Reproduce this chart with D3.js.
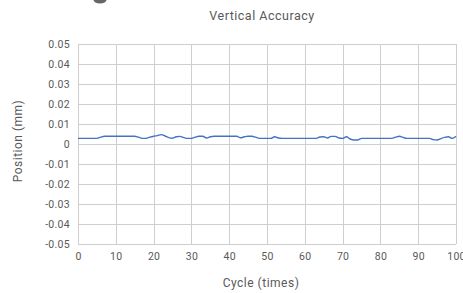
<!DOCTYPE html>
<html><head><meta charset="utf-8">
<script src="https://cdn.jsdelivr.net/npm/d3@7/dist/d3.min.js"></script>
<style>body{margin:0;background:#fff;}svg{display:block;}text{font-family:Roboto,"DejaVu Sans",sans-serif;fill:#595959;}</style>
</head><body>
<svg id="c" width="463" height="293"></svg>
<script>
const title = "Vertical Accuracy";
const xTitle = "Cycle (times)";
const yTitle = "Position (mm)";
const xTicks = [0,10,20,30,40,50,60,70,80,90,100];
const yTicks = [-0.05,-0.04,-0.03,-0.02,-0.01,0,0.01,0.02,0.03,0.04,0.05];
const yTickLabels = ["-0.05","-0.04","-0.03","-0.02","-0.01","0","0.01","0.02","0.03","0.04","0.05"];
const cycles = d3.range(0,101);
const positions = [
0.0028,0.0028,0.0028,0.0028,0.0028,0.0028,0.0034,0.0039,0.0039,0.0039,
0.0039,0.0039,0.0039,0.0039,0.0039,0.0039,0.0034,0.0028,0.0028,0.0034,
0.0039,0.0042,0.0047,0.0040,0.0032,0.0029,0.0036,0.0038,0.0032,0.0028,
0.0028,0.0034,0.0039,0.0039,0.0030,0.0036,0.0039,0.0039,0.0039,0.0039,
0.0039,0.0039,0.0039,0.0031,0.0036,0.0039,0.0039,0.0034,0.0028,0.0028,
0.0028,0.0028,0.0036,0.0030,0.0028,0.0028,0.0028,0.0028,0.0028,0.0028,
0.0028,0.0028,0.0028,0.0028,0.0035,0.0036,0.0030,0.0038,0.0038,0.0030,
0.0028,0.0036,0.0025,0.0020,0.0020,0.0028,0.0028,0.0028,0.0028,0.0028,
0.0028,0.0028,0.0028,0.0028,0.0034,0.0039,0.0033,0.0028,0.0028,0.0028,
0.0028,0.0028,0.0028,0.0028,0.0022,0.0020,0.0027,0.0033,0.0036,0.0028,
0.0039];

const svg = d3.select("#c");
const x = d3.scaleLinear().domain([0,100]).range([78,456]);
const y = d3.scaleLinear().domain([-0.05,0.05]).range([244,44]);

// cut-off icon at top
svg.append("ellipse").attr("cx",100).attr("cy",0).attr("rx",6.5).attr("ry",3.5).attr("fill","#666");

const grid = svg.append("g").attr("stroke","#cfcfcf").attr("stroke-width",1).attr("shape-rendering","crispEdges");
grid.selectAll(".v").data(xTicks).enter().append("line")
  .attr("x1",d=>Math.round(x(d))+0.5).attr("x2",d=>Math.round(x(d))+0.5).attr("y1",y(0.05)).attr("y2",y(-0.05));
grid.selectAll(".h").data(yTicks).enter().append("line")
  .attr("x1",x(0)).attr("x2",x(100)).attr("y1",d=>Math.round(y(d))+0.5).attr("y2",d=>Math.round(y(d))+0.5);

const yAxis = d3.axisLeft(y).tickValues(yTicks).tickSize(0).tickPadding(8).tickFormat((d,i)=>yTickLabels[i]);
const ga = svg.append("g").attr("transform",`translate(${x(0)},0)`).call(yAxis);
ga.select(".domain").remove();
ga.selectAll("text").attr("font-size",10.5).style("letter-spacing","0.3px").style("fill","#595959").style("font-family","Roboto,sans-serif");

const xAxis = d3.axisBottom(x).tickValues(xTicks).tickSize(0).tickPadding(9);
const gx = svg.append("g").attr("transform",`translate(0,${y(-0.05)})`).call(xAxis);
gx.select(".domain").remove();
gx.selectAll("text").attr("font-size",10.5).style("letter-spacing","0.3px").style("fill","#595959").style("font-family","Roboto,sans-serif");

const line = d3.line().x((d,i)=>x(cycles[i])).y(d=>y(d)).curve(d3.curveMonotoneX);
svg.append("path").datum(positions).attr("d",line).attr("fill","none").attr("stroke","#4472C4").attr("stroke-width",1.4);

svg.append("text").attr("x",262).attr("y",20).attr("text-anchor","middle").attr("font-size",12.5).style("letter-spacing","0.5px").text(title);
svg.append("text").attr("x",261).attr("y",287).attr("text-anchor","middle").attr("font-size",12).style("letter-spacing","0.5px").text(xTitle);
svg.append("text").attr("transform","translate(22,141) rotate(-90)").attr("text-anchor","middle").attr("font-size",12).style("letter-spacing","0.5px").text(yTitle);
</script>
</body></html>
